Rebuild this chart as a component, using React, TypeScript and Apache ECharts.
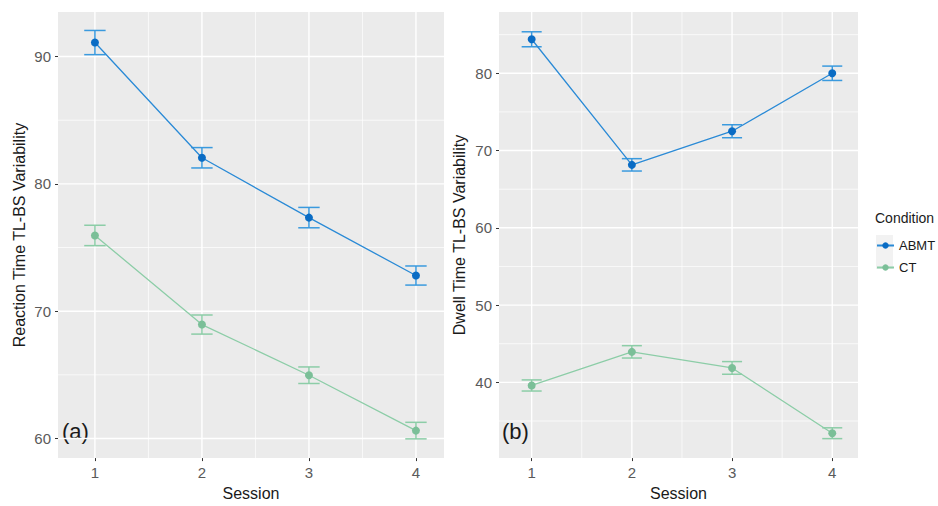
import React, { useEffect, useRef } from "react";
import * as echarts from "echarts";

const sessions = [1, 2, 3, 4];
const rtABMT = [91.1, 82.05, 77.35, 72.8];
const rtABMTse = [0.95, 0.8, 0.8, 0.75];
const rtCT = [75.95, 68.95, 64.97, 60.62];
const rtCTse = [0.8, 0.75, 0.65, 0.65];
const dtABMT = [84.4, 68.15, 72.5, 80.0];
const dtABMTse = [0.97, 0.8, 0.84, 0.93];
const dtCT = [39.6, 43.95, 41.87, 33.42];
const dtCTse = [0.72, 0.8, 0.82, 0.7];

const xTicks = [1, 2, 3, 4];
const xMinor = [1.5, 2.5, 3.5];
const yTicksA = [60, 70, 80, 90];
const yMinorA = [65, 75, 85];
const yTicksB = [40, 50, 60, 70, 80];
const yMinorB = [35, 45, 55, 65, 75, 85];

const FONT = "'Liberation Sans', Arial, Helvetica, sans-serif";
const BLUE_PT = "#0a6cc4";
const BLUE_LN = "#2a8ad6";
const BLUE_EB = "#3a9ade";
const GREEN_PT = "#7bbf98";
const GREEN_LN = "#8ccda7";
const GREEN_EB = "#8ccda7";

export default function App() {
  const ref = useRef<HTMLDivElement>(null);

  useEffect(() => {
    if (!ref.current) return;
    const chart = echarts.init(ref.current, null, { renderer: "svg" });

    const grids = [
      { left: 58, top: 12, width: 386, height: 456, backgroundColor: "#ebebeb", show: true, borderWidth: 0 },
      { left: 499, top: 12, width: 359, height: 456, backgroundColor: "#ebebeb", show: true, borderWidth: 0 },
    ];
    const xRanges = [
      [0.655, 4.262],
      [0.674, 4.257],
    ];
    const yRanges = [
      [58.46, 93.5],
      [30.2, 87.93],
    ];
    const yTickSets = [yTicksA, yTicksB];
    const yMinorSets = [yMinorA, yMinorB];
    const yNames = ["Reaction Time TL-BS Variability", "Dwell Time TL-BS Variability"];

    const xAxes = [0, 1].map((i) => ({
      type: "value",
      gridIndex: i,
      min: xRanges[i][0],
      max: xRanges[i][1],
      name: "Session",
      nameLocation: "middle",
      nameGap: 23,
      nameTextStyle: { fontFamily: FONT, fontSize: 16, color: "#1a1a1a" },
      axisLine: { show: false },
      axisTick: { show: true, length: 3, customValues: xTicks, lineStyle: { color: "#333", width: 1 } },
      axisLabel: { customValues: xTicks, margin: 7, fontFamily: FONT, fontSize: 15, color: "#5a5a5a" },
      splitLine: { show: false },
    }));
    const yAxes = [0, 1].map((i) => ({
      type: "value",
      gridIndex: i,
      min: yRanges[i][0],
      max: yRanges[i][1],
      name: yNames[i],
      nameLocation: "middle",
      nameRotate: 90,
      nameGap: i === 0 ? 31 : 32,
      nameTextStyle: { fontFamily: FONT, fontSize: 16, color: "#1a1a1a" },
      axisLine: { show: false },
      axisTick: { show: true, length: 3, customValues: yTickSets[i], lineStyle: { color: "#333", width: 1 } },
      axisLabel: { customValues: yTickSets[i], margin: 7, fontFamily: FONT, fontSize: 15, color: "#5a5a5a" },
      splitLine: { show: false },
    }));

    const gridSeries = (i: number) => {
      const data: number[][] = [];
      xTicks.forEach((v) => data.push([v, 1, 0]));
      xMinor.forEach((v) => data.push([v, 0, 0]));
      yTickSets[i].forEach((v) => data.push([v, 1, 1]));
      yMinorSets[i].forEach((v) => data.push([v, 0, 1]));
      return {
        type: "custom",
        xAxisIndex: i,
        yAxisIndex: i,
        silent: true,
        z: 0,
        encode: { x: 0, y: 0 },
        data,
        renderItem: (params: any, api: any) => {
          const cs = params.coordSys;
          const v = api.value(0);
          const major = api.value(1) === 1;
          const dir = api.value(2);
          const style = { stroke: "#ffffff", lineWidth: major ? 1.4 : 0.7 };
          if (dir === 0) {
            const x = api.coord([v, yRanges[i][0]])[0];
            return { type: "line", shape: { x1: x, y1: cs.y, x2: x, y2: cs.y + cs.height }, style };
          }
          const y = api.coord([xRanges[i][0], v])[1];
          return { type: "line", shape: { x1: cs.x, y1: y, x2: cs.x + cs.width, y2: y }, style };
        },
      };
    };

    const errSeries = (i: number, vals: number[], se: number[], color: string) => ({
      type: "custom",
      xAxisIndex: i,
      yAxisIndex: i,
      silent: true,
      z: 2,
      encode: { x: 0, y: [1, 2] },
      itemStyle: { color },
      data: sessions.map((s, k) => [s, vals[k] - se[k], vals[k] + se[k]]),
      renderItem: (_params: any, api: any) => {
        const x = api.value(0);
        const lo = api.coord([x, api.value(1)]);
        const hi = api.coord([x, api.value(2)]);
        const l = api.coord([x - 0.1, api.value(1)])[0];
        const r = api.coord([x + 0.1, api.value(1)])[0];
        const style = { stroke: color, lineWidth: 1.5 };
        return {
          type: "group",
          children: [
            { type: "line", shape: { x1: lo[0], y1: lo[1], x2: hi[0], y2: hi[1] }, style },
            { type: "line", shape: { x1: l, y1: lo[1], x2: r, y2: lo[1] }, style },
            { type: "line", shape: { x1: l, y1: hi[1], x2: r, y2: hi[1] }, style },
          ],
        };
      },
    });

    const lineSeries = (i: number, name: string, vals: number[], ptColor: string, lnColor: string) => ({
      type: "line",
      name,
      xAxisIndex: i,
      yAxisIndex: i,
      z: 3,
      data: sessions.map((s, k) => [s, vals[k]]),
      symbol: "circle",
      symbolSize: 8,
      showSymbol: true,
      itemStyle: { color: ptColor },
      lineStyle: { color: lnColor, width: 1.3 },
      emphasis: { disabled: true },
    });

    chart.setOption({
      animation: false,
      textStyle: { fontFamily: FONT },
      grid: grids,
      xAxis: xAxes,
      yAxis: yAxes,
      legend: {
        data: ["ABMT", "CT"],
        orient: "vertical",
        left: 876,
        top: 239,
        padding: 0,
        itemWidth: 17,
        itemHeight: 8,
        itemGap: 9,
        textStyle: { fontFamily: FONT, fontSize: 13, color: "#1a1a1a" },
        selectedMode: false,
      },
      graphic: [
        { type: "rect", left: 876, top: 235, shape: { width: 17, height: 34 }, style: { fill: "#f2f2f2" }, z: -1 },
        { type: "text", left: 875, top: 211, style: { text: "Condition", fontFamily: FONT, fontSize: 14, fill: "#1a1a1a" } },
        { type: "text", left: 62, top: 420, style: { text: "(a)", fontFamily: FONT, fontSize: 22, fill: "#1a1a1a" } },
        { type: "text", left: 502, top: 420, style: { text: "(b)", fontFamily: FONT, fontSize: 22, fill: "#1a1a1a" } },
      ],
      series: [
        gridSeries(0),
        gridSeries(1),
        errSeries(0, rtABMT, rtABMTse, BLUE_EB),
        errSeries(0, rtCT, rtCTse, GREEN_EB),
        errSeries(1, dtABMT, dtABMTse, BLUE_EB),
        errSeries(1, dtCT, dtCTse, GREEN_EB),
        lineSeries(0, "ABMT", rtABMT, BLUE_PT, BLUE_LN),
        lineSeries(0, "CT", rtCT, GREEN_PT, GREEN_LN),
        lineSeries(1, "ABMT", dtABMT, BLUE_PT, BLUE_LN),
        lineSeries(1, "CT", dtCT, GREEN_PT, GREEN_LN),
      ],
    });

    return () => chart.dispose();
  }, []);

  return (
    <div
      ref={ref}
      style={{ position: "fixed", left: 0, top: 0, width: 938, height: 506, background: "#ffffff" }}
    />
  );
}
